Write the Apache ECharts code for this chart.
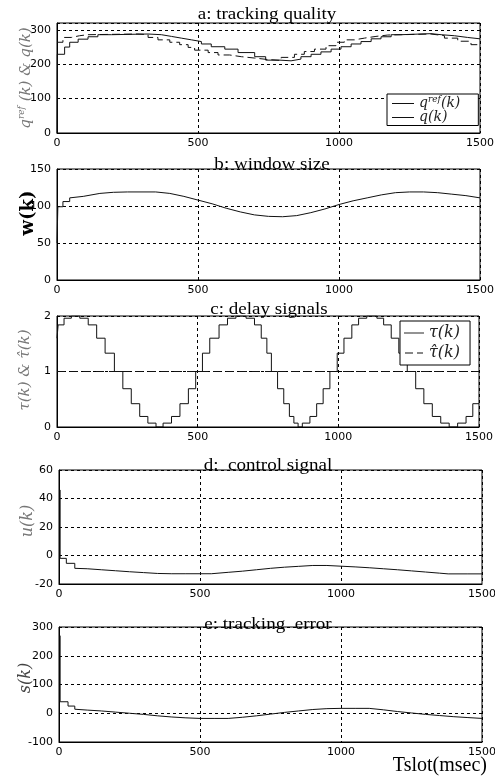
<!DOCTYPE html>
<html><head><meta charset="utf-8">
<script src="https://cdn.jsdelivr.net/npm/echarts@6/dist/echarts.min.js"></script>
<style>html,body{margin:0;padding:0;background:#fff}#c{width:495px;height:776px}</style>
</head><body><div id="c"></div>
<script>
// ---- data ----
const xTicksMax = 1500;
const titles = ['a: tracking quality', 'b: window size', 'c: delay signals', 'd:  control signal', 'e: tracking  error'];
const yScales = [[0, 320, 100], [0, 150, 50], [0, 2, 1], [-20, 60, 20], [-100, 300, 100]];

const qRef = [[0,264],[21,278],[51,283],[80,286],[110,288],[287,286],[323,278],[358,271],[400,264],[435,257],[465,249],[488,241],[536,234],[571,227],[612,222],[654,218],[701,214],[745,211],[795,220],[842,229],[877,237],[913,244],[954,254],[989,264],[1019,271],[1055,276],[1090,281],[1131,285],[1173,288],[1326,283],[1374,276],[1421,267],[1468,257],[1500,257]];
const qK = [[0,0],[1,229],[27,250],[45,264],[75,273],[110,280],[145,286],[193,288],[323,286],[370,281],[406,276],[441,271],[477,266],[512,259],[547,251],[595,244],[642,234],[701,222],[740,212],[790,210],[830,215],[865,222],[901,229],[936,236],[972,244],[1007,251],[1043,259],[1078,266],[1114,274],[1149,280],[1185,286],[1220,289],[1326,286],[1362,283],[1409,278],[1456,274],[1500,274]];
const wK = [[0,50],[3,50],[3,99],[21,99],[21,106],[45,106],[45,111],[93,113],[152,117],[200,118.5],[250,119],[350,119],[400,117],[450,113],[500,108],[550,103],[600,97],[650,92],[700,88],[750,86],[800,85.5],[850,87],[900,91],[950,96],[1000,102],[1050,107],[1100,111],[1150,115],[1200,118],[1250,119],[1300,119],[1350,118],[1400,116],[1450,114],[1500,111]];
const tauK = [[0,1.6],[4,1.84],[25,1.96],[51,2.0],[81,1.96],[111,1.84],[141,1.6],[171,1.33],[204,1.0],[234,0.69],[264,0.42],[294,0.19],[323,0.07],[352,0],[377,0.07],[407,0.19],[437,0.42],[467,0.69],[493,1.0],[517,1.33],[543,1.6],[576,1.84],[606,1.96],[636,2.0],[672,1.96],[702,1.84],[726,1.6],[746,1.33],[762,1.0],[784,0.69],[806,0.42],[826,0.19],[842,0.07],[857,0],[872,0.07],[899,0.19],[923,0.42],[946,0.69],[970,1.0],[996,1.33],[1020,1.6],[1048,1.84],[1072,1.96],[1101,2.0],[1137,1.96],[1161,1.84],[1188,1.6],[1215,1.33],[1245,1.0],[1275,0.69],[1304,0.42],[1334,0.19],[1364,0.07],[1394,0],[1424,0.07],[1454,0.19],[1478,0.42],[1500,0.42]];
const tauHat = [[0,1],[1500,1]];
const uK = [[4,46],[4,-2],[26,-2],[26,-5.5],[56,-5.5],[56,-9],[100,-9.3],[150,-10],[200,-10.7],[250,-11.4],[300,-12],[350,-12.6],[400,-12.8],[450,-12.8],[500,-12.8],[540,-12.8],[600,-11.8],[650,-11],[700,-10],[750,-9],[800,-8.2],[850,-7.6],[900,-7],[950,-7],[1000,-7.5],[1050,-8],[1100,-8.6],[1150,-9.3],[1200,-10],[1250,-10.8],[1300,-11.6],[1350,-12.4],[1380,-12.9],[1450,-12.9],[1500,-12.9]];
const sK = [[4,270],[4,40],[32,40],[32,25],[56,25],[56,14],[100,11],[150,8],[200,4],[250,0],[300,-4],[350,-9],[400,-13],[450,-16],[500,-18],[550,-18],[600,-18],[650,-14],[700,-9],[750,-3],[800,3],[850,8],[900,13],[950,16],[1000,17],[1050,17],[1100,17],[1150,12],[1200,6],[1250,1],[1300,-4],[1350,-8],[1400,-12],[1450,-15],[1500,-18]];

// ---- layout ----
const grids = [
  {left:57, top:23, width:423, height:110},
  {left:57, top:169, width:423, height:111},
  {left:57, top:316, width:422, height:111},
  {left:59, top:470, width:423, height:114},
  {left:59, top:627, width:423, height:115}
];
const titlePos = [[267,15],[272,165],[269,310],[268,466],[268,625]];
const labelFont = 'DejaVu Sans';
const gridLine = {show:true, lineStyle:{color:'#000', width:1, type:[3,3]}};

const chart = echarts.init(document.getElementById('c'), null, {renderer:'canvas'});

const xAxis = grids.map((g,i) => ({
  type:'value', gridIndex:i, min:0, max:xTicksMax, interval:500,
  axisLine:{show:true, onZero:false, lineStyle:{color:'#000', width:1}},
  axisTick:{show:false},
  axisLabel:{fontFamily:labelFont, fontSize:11, color:'#000', margin:5, formatter: v => String(v)},
  splitLine:gridLine
}));
const yAxis = grids.map((g,i) => ({
  type:'value', gridIndex:i, min:yScales[i][0], max:yScales[i][1], interval:yScales[i][2],
  axisLine:{show:true, onZero:false, lineStyle:{color:'#000', width:1}},
  axisTick:{show:false},
  axisLabel:{fontFamily:labelFont, fontSize:11, color:'#000', margin:6, showMaxLabel: i !== 0, formatter: v => String(v)},
  splitLine:gridLine
}));

const lineS = (name, idx, data, opts) => Object.assign({
  name, type:'line', xAxisIndex:idx, yAxisIndex:idx, data,
  symbol:'none', showSymbol:false, animation:false, silent:true,
  itemStyle:{color:'#111'},
  lineStyle:{color:'#111', width:1, type:'solid'}
}, opts || {});

const series = [
  lineS('qref', 0, qRef, {step:'end', lineStyle:{color:'#111', width:1, type:[8,4]}}),
  lineS('q', 0, qK, {step:'end'}),
  lineS('w', 1, wK),
  lineS('tau', 2, tauK, {step:'end'}),
  lineS('tauhat', 2, tauHat, {lineStyle:{color:'#111', width:1, type:[8,5]}}),
  lineS('u', 3, uK),
  lineS('s', 4, sK)
];

const solidIcon = 'path://M0,0H22V1H0Z';
const dashIcon = 'path://M0,0H8V1H0Z M12,0H18V1H12Z';
const it = {fontFamily:'DejaVu Serif', fontStyle:'italic', color:'#222'};
const legendCommon = {
  orient:'vertical', backgroundColor:'#fff', borderColor:'#000', borderWidth:1, borderRadius:0,
  itemStyle:{color:'#111', borderWidth:0}
};
const legendA = Object.assign({
  data:[{name:'qref', icon:solidIcon}, {name:'q', icon:solidIcon}], left:387, top:94,
  padding:[1,18,1,5], itemGap:0, itemWidth:22, itemHeight:1,
  formatter: n => n === 'qref' ? '{i|q}{s|ref}{i|(k)}' : '{i|q(k)}',
  textStyle:{ rich:{ i:Object.assign({fontSize:14, lineHeight:15}, it), s:Object.assign({fontSize:9, verticalAlign:'top', padding:[0,0,8,0]}, it) } }
}, legendCommon);
const legendC = Object.assign({
  data:[{name:'tau', icon:solidIcon}, {name:'tauhat', icon:dashIcon}], left:400, top:321,
  padding:[3,10,3,4], itemGap:2, itemWidth:20, itemHeight:1,
  formatter: n => n === 'tau' ? 'τ(k)' : 'τ̂(k)',
  textStyle:Object.assign({fontSize:16, lineHeight:18}, it)
}, legendCommon);

const graphic = titles.map((t,i) => ({
  type:'text', x:titlePos[i][0], y:titlePos[i][1], scaleX:1.12, z:10,
  style:{text:t, font:'17px "Liberation Serif"', fill:'#000', align:'center', verticalAlign:'middle'}
}));
const yNames = [
  {x:26, y:78, text:'{i|q}{s|ref}{i| (k) & q(k)}', fill:'#777', size:15},
  {x:28, y:213, text:'{b|w(k)}', fill:'#000', size:18},
  {x:25.5, y:370, text:'{i|τ(k) & τ̂(k)}', fill:'#777', size:15},
  {x:27.5, y:521, text:'{i|u(k)}', fill:'#777', size:16},
  {x:25.5, y:678, text:'{i|s(k)}', fill:'#444', size:16}
];
yNames.forEach(n => graphic.push({
  type:'text', x:n.x, y:n.y, rotation:Math.PI/2, z:10,
  style:{text:n.text, fill:n.fill, align:'center', verticalAlign:'middle',
    rich:{
      i:{fontFamily:'DejaVu Serif', fontStyle:'italic', fontSize:n.size, fill:n.fill},
      s:{fontFamily:'DejaVu Serif', fontStyle:'italic', fontSize:9, fill:n.fill, verticalAlign:'top', padding:[0,0,8,0]},
      b:{fontFamily:'DejaVu Serif', fontWeight:'bold', fontSize:n.size, fill:n.fill}
    }}
}));
graphic.push({type:'text', x:487, y:766, z:10,
  style:{text:'Tslot(msec)', font:'20px "Liberation Serif"', fill:'#000', align:'right', verticalAlign:'middle'}});

chart.setOption({
  backgroundColor:'#fff',
  animation:false,
  grid: grids.map(g => Object.assign({show:true, borderColor:'#000', borderWidth:1, backgroundColor:'#fff', containLabel:false, outerBoundsMode:'none'}, g)),
  xAxis, yAxis, series,
  legend:[legendA, legendC],
  graphic
});
</script></body></html>
